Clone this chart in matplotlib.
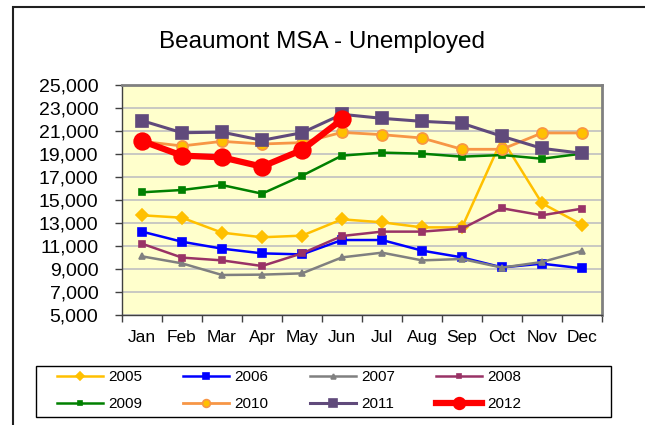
import numpy as np
import matplotlib.pyplot as plt
from matplotlib.patches import Rectangle
from matplotlib.ticker import FuncFormatter

plt.rcParams['font.family'] = ['Liberation Sans', 'DejaVu Sans']

MONTHS = ['Jan', 'Feb', 'Mar', 'Apr', 'May', 'Jun',
          'Jul', 'Aug', 'Sep', 'Oct', 'Nov', 'Dec']

Y2005 = [13670, 13460, 12160, 11760, 11900, 13320, 13060, 12620, 12620, 20300, 14710, 12850]
Y2006 = [12250, 11370, 10770, 10360, 10270, 11520, 11520, 10600, 10010, 9140, 9460, 9060]
Y2007 = [10100, 9490, 8480, 8510, 8620, 10010, 10420, 9750, 9870, 9120, 9610, 10570]
Y2008 = [11200, 9990, 9750, 9260, 10360, 11870, 12250, 12250, 12510, 14280, 13670, 14250]
Y2009 = [15670, 15870, 16300, 15550, 17110, 18860, 19120, 19030, 18770, 18910, 18590, 19030]
Y2010 = [20100, 19700, 20100, 19870, 19990, 20880, 20680, 20390, 19410, 19410, 20830, 20830]
Y2011 = [21900, 20850, 20900, 20190, 20850, 22450, 22100, 21840, 21670, 20540, 19490, 19060]
Y2012 = [20130, 18860, 18710, 17900, 19350, 22010]

# (label, values, line colour, marker, size, face, edge, line width)
SERIES = [
    ('2005', Y2005, '#FFC000', 'D', 6, '#FFC000', '#FFC000', 1.8),
    ('2006', Y2006, '#0000FF', 's', 6, '#0000FF', '#0000FF', 1.8),
    ('2007', Y2007, '#808080', '^', 5, '#808080', '#808080', 1.8),
    ('2008', Y2008, '#993366', 's', 5, '#993366', '#993366', 1.8),
    ('2009', Y2009, '#008000', 's', 5, '#008000', '#008000', 1.8),
    ('2010', Y2010, '#F79646', 'o', 8, '#FFC000', '#F79646', 2.0),
    ('2011', Y2011, '#604A7B', 's', 9, '#604A7B', '#604A7B', 2.2),
    ('2012', Y2012, '#FF0000', 'o', 12, '#FF0000', '#FF0000', 4.5),
]

fig = plt.figure(figsize=(6.45, 4.25), dpi=100)
ax = fig.add_axes([122/645, 1-315/425, 480/645, 230/425])
ax.set_facecolor('#FFFFCC')

handles = []
for lab, vals, col, mk, ms, fc, ec, lw in SERIES:
    x = np.arange(len(vals))
    h, = ax.plot(x, vals, color=col, lw=lw, marker=mk, ms=ms,
                 markerfacecolor=fc, markeredgecolor=ec, markeredgewidth=1.2,
                 label=lab)
    handles.append(h)

ax.set_xlim(-0.5, 11.5)
ax.set_ylim(5000, 25000)
ax.set_yticks(np.arange(5000, 25001, 2000))
ax.yaxis.set_major_formatter(FuncFormatter(lambda v, p: '{:,.0f}'.format(v)))
ax.grid(axis='y', color='#C0C0C0', lw=1.2)
ax.set_axisbelow(True)

ax.set_xticks(np.arange(-0.5, 12, 1))
ax.set_xticklabels([])
ax.set_xticks(np.arange(12), minor=True)
ax.set_xticklabels(MONTHS, minor=True)
ax.tick_params(axis='x', which='major', direction='out', length=5, width=1, color='#404040')
ax.tick_params(axis='x', which='minor', length=0, pad=11, labelsize=12.5)
ax.tick_params(axis='y', direction='out', length=5, width=1, color='#404040',
               labelsize=14, pad=12)

for side in ['top', 'right']:
    ax.spines[side].set_color('#808080')
    ax.spines[side].set_linewidth(2)
for side in ['left', 'bottom']:
    ax.spines[side].set_color('#404040')
    ax.spines[side].set_linewidth(1)

fig.text(322/645, 1-42/425, 'Beaumont MSA - Unemployed', ha='center', va='center',
         fontsize=17.5)

# legend fills row by row in the reference; matplotlib fills by column
order = [0, 4, 1, 5, 2, 6, 3, 7]
leg = fig.legend([handles[i] for i in order], [SERIES[i][0] for i in order],
                 loc='upper left', ncol=4, bbox_to_anchor=(57/645, 1-370/425),
                 fontsize=11, frameon=False, borderpad=0, borderaxespad=0,
                 handlelength=3.0, handletextpad=0.35, columnspacing=2.7,
                 labelspacing=0.85, markerscale=0.7)

fig.patches.append(Rectangle((36/645, 1-417/425), 575/645, 51/425,
                             transform=fig.transFigure, fill=False,
                             edgecolor='black', lw=1))

# outer chart frame, cropped at right and bottom
fig.patches.append(Rectangle((13/645, -0.1), 1.0, 1-7/425+0.1,
                             transform=fig.transFigure, fill=False,
                             edgecolor='#202020', lw=1.5))

fig.savefig('out.png', dpi=100)
